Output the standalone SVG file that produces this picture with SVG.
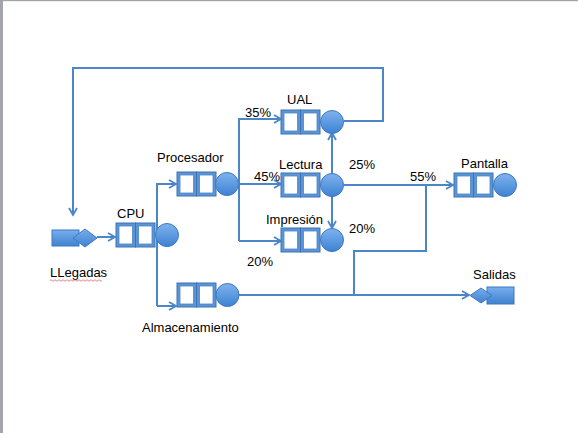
<svg xmlns="http://www.w3.org/2000/svg" width="578" height="433" viewBox="0 0 578 433">
<style>
.ln{fill:none;stroke:#4a86c8;stroke-width:2;stroke-linejoin:miter}
.cell{fill:#5b95d6;stroke:#3f72b3;stroke-width:1}
.inner{fill:#ffffff;stroke:#4a86c8;stroke-width:0.8}
.srv{fill:url(#g);stroke:#3f78c0;stroke-width:1}
.src{fill:url(#g2);stroke:#3f78c0;stroke-width:1}
text{font-family:"Liberation Sans",Arial,sans-serif;font-size:13px;fill:#000}
</style>
<defs>
<linearGradient id="g" x1="0" y1="0" x2="0" y2="1">
<stop offset="0" stop-color="#7fb3ee"/>
<stop offset="1" stop-color="#3d82d2"/>
</linearGradient>
<linearGradient id="g2" x1="0" y1="0" x2="0" y2="1">
<stop offset="0" stop-color="#78aeec"/>
<stop offset="1" stop-color="#3f82d0"/>
</linearGradient>
<marker id="ah" markerWidth="10" markerHeight="10" refX="8" refY="5" orient="auto" markerUnits="userSpaceOnUse">
<path d="M1,1 L8,5 L1,9" fill="none" stroke="#4a86c8" stroke-width="1.8"/>
</marker>
<g id="q">
<rect class="cell" x="0" y="0" width="19.5" height="24"/>
<rect class="inner" x="3" y="3" width="13.5" height="18"/>
<rect class="cell" x="19.5" y="0" width="19.5" height="24"/>
<rect class="inner" x="22.5" y="3" width="13.5" height="18"/>
</g>
</defs>
<rect x="0" y="0" width="578" height="433" fill="#ffffff"/>
<rect x="0" y="0" width="3" height="433" fill="#a3a4aa"/>
<rect x="0" y="0" width="578" height="1.2" fill="#a3a4aa"/>

<g id="connectors">
<path class="ln" d="M97,237 H115" marker-end="url(#ah)"/>
<path class="ln" d="M157,306 V184 H176" marker-end="url(#ah)"/>
<path class="ln" d="M157,306 H176" marker-end="url(#ah)"/>
<path class="ln" d="M239,184 H281" marker-end="url(#ah)"/>
<path class="ln" d="M239,241 V119 H281" marker-end="url(#ah)"/>
<path class="ln" d="M239,241 H281" marker-end="url(#ah)"/>
<path class="ln" d="M344,121 H383 V68 H73 V215" marker-end="url(#ah)"/>
<path class="ln" d="M332,174 V133" marker-end="url(#ah)"/>
<path class="ln" d="M332,196 V228" marker-end="url(#ah)"/>
<path class="ln" d="M344,185 H453" marker-end="url(#ah)"/>
<path class="ln" d="M426,185 V251 H354 V294"/>
<path class="ln" d="M239,295 H469" marker-end="url(#ah)"/>
</g>

<g id="llegadas">
<rect class="src" x="52" y="230" width="27" height="16"/>
<path class="src" d="M73,238 L85,229 L97,238 L85,247 Z"/>
<text x="50" y="277">LLegadas</text>
<path d="M50,280.5 q1,-1.5 2,0 t2,0 t2,0 t2,0 t2,0 t2,0 t2,0 t2,0 t2,0 t2,0 t2,0 t2,0 t2,0 t2,0 t2,0 t2,0 t2,0 t2,0 t2,0 t2,0 t2,0 t2,0 t2,0 t2,0 t2,0 t2,0" fill="none" stroke="#e05050" stroke-width="0.7"/>
</g>

<g id="cpu">
<use href="#q" x="116" y="223"/>
<circle class="srv" cx="167" cy="235" r="11.5"/>
<text x="117" y="218">CPU</text>
</g>

<g id="procesador">
<use href="#q" x="177" y="172"/>
<circle class="srv" cx="227" cy="184" r="11.5"/>
<text x="157" y="162">Procesador</text>
</g>

<g id="almacenamiento">
<use href="#q" x="177" y="283"/>
<circle class="srv" cx="227.5" cy="295" r="11.5"/>
<text x="142" y="332">Almacenamiento</text>
</g>

<g id="ual">
<use href="#q" x="281" y="110"/>
<circle class="srv" cx="332" cy="122" r="11.5"/>
<text x="287" y="104">UAL</text>
<text x="245" y="117">35%</text>
</g>

<g id="lectura">
<use href="#q" x="281" y="173"/>
<circle class="srv" cx="332" cy="185" r="11.5"/>
<text x="279" y="169">Lectura</text>
<text x="254" y="181">45%</text>
<text x="349" y="169">25%</text>
</g>

<g id="impresion">
<use href="#q" x="281" y="228"/>
<circle class="srv" cx="332" cy="240" r="11.5"/>
<text x="266" y="224">Impresión</text>
<text x="349" y="233">20%</text>
<text x="247" y="266">20%</text>
</g>

<g id="pantalla">
<use href="#q" x="454" y="173"/>
<circle class="srv" cx="505" cy="185" r="11.5"/>
<text x="461" y="168">Pantalla</text>
<text x="410" y="181">55%</text>
</g>

<g id="salidas">
<rect class="src" x="487" y="287" width="27" height="17"/>
<path class="src" d="M470,295.5 L481,288 L492,295.5 L481,303 Z"/>
<text x="473" y="279">Salidas</text>
</g>
</svg>
